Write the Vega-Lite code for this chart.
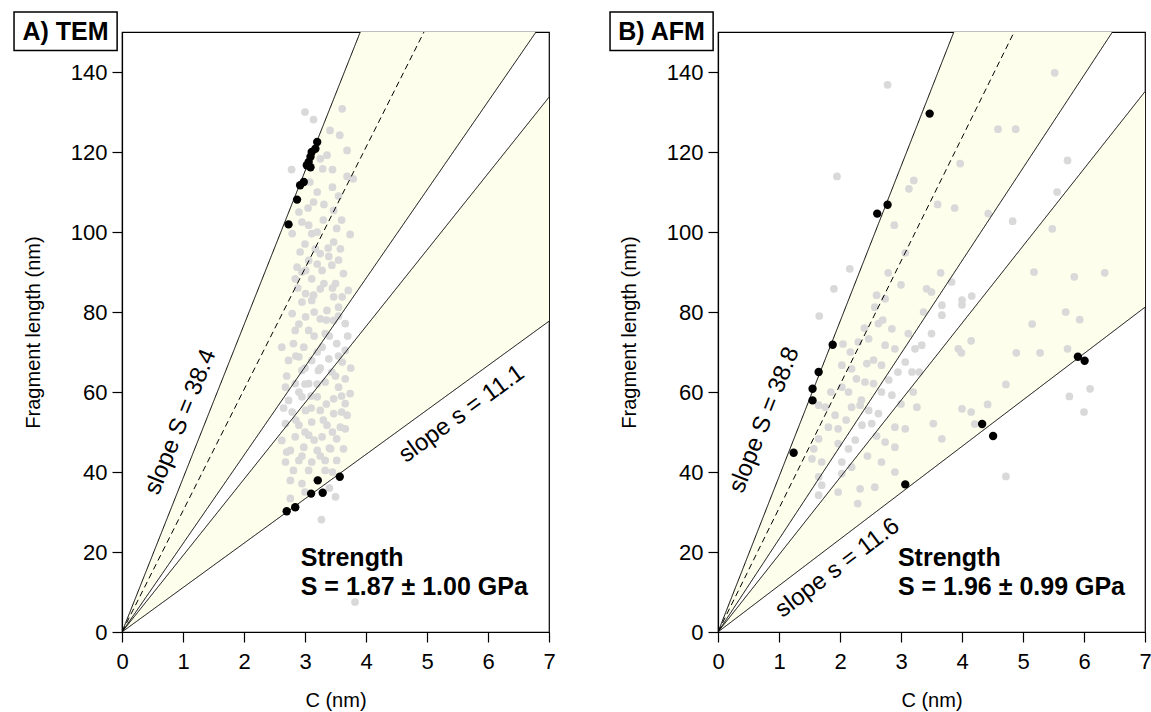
{
  "$schema": "https://vega.github.io/schema/vega-lite/v6.json",
  "background": "white",
  "padding": {"left": 12, "top": 10, "right": 5, "bottom": 2},
  "spacing": 169,
  "bounds": "flush",
  "config": {
    "view": {"stroke": "#000", "strokeWidth": 1.2},
    "font": "Liberation Sans",
    "axis": {
      "grid": false, "domainColor": "#000", "domainWidth": 1.2, "tickColor": "#000", "tickWidth": 1.2, "tickSize": 10,
      "labelFont": "Liberation Sans", "labelFontSize": 22, "labelColor": "#000", "labelFlush": false, "labelOverlap": false,
      "titleFont": "Liberation Sans", "titleFontSize": 20, "titleFontWeight": "normal", "titleColor": "#000"
    },
    "axisX": {"labelPadding": 9, "titlePadding": 18},
    "axisY": {"labelPadding": 5, "titlePadding": 27}
  },
  "datasets": {
    "bands": [
      {"panel": "A", "band": "upper", "x": 0, "y": 0, "y2": 0},
      {"panel": "A", "band": "upper", "x": 7, "y": 268.8, "y2": 154.7},
      {"panel": "A", "band": "lower", "x": 0, "y": 0, "y2": 0},
      {"panel": "A", "band": "lower", "x": 7, "y": 133.7, "y2": 77.7},
      {"panel": "B", "band": "upper", "x": 0, "y": 0, "y2": 0},
      {"panel": "B", "band": "upper", "x": 7, "y": 271.6, "y2": 162.4},
      {"panel": "B", "band": "lower", "x": 0, "y": 0, "y2": 0},
      {"panel": "B", "band": "lower", "x": 7, "y": 135.1, "y2": 81.2}
    ],
    "lines": [
      {"panel": "A", "line": "S", "style": "solid", "x": 0, "y": 0},
      {"panel": "A", "line": "S", "style": "solid", "x": 7, "y": 268.8},
      {"panel": "A", "line": "mean", "style": "dashed", "x": 0, "y": 0},
      {"panel": "A", "line": "mean", "style": "dashed", "x": 7, "y": 212.1},
      {"panel": "A", "line": "l3", "style": "solid", "x": 0, "y": 0},
      {"panel": "A", "line": "l3", "style": "solid", "x": 7, "y": 154.7},
      {"panel": "A", "line": "l4", "style": "solid", "x": 0, "y": 0},
      {"panel": "A", "line": "l4", "style": "solid", "x": 7, "y": 133.7},
      {"panel": "A", "line": "s", "style": "solid", "x": 0, "y": 0},
      {"panel": "A", "line": "s", "style": "solid", "x": 7, "y": 77.7},
      {"panel": "B", "line": "S", "style": "solid", "x": 0, "y": 0},
      {"panel": "B", "line": "S", "style": "solid", "x": 7, "y": 271.6},
      {"panel": "B", "line": "mean", "style": "dashed", "x": 0, "y": 0},
      {"panel": "B", "line": "mean", "style": "dashed", "x": 7, "y": 216.3},
      {"panel": "B", "line": "l3", "style": "solid", "x": 0, "y": 0},
      {"panel": "B", "line": "l3", "style": "solid", "x": 7, "y": 162.4},
      {"panel": "B", "line": "l4", "style": "solid", "x": 0, "y": 0},
      {"panel": "B", "line": "l4", "style": "solid", "x": 7, "y": 135.1},
      {"panel": "B", "line": "s", "style": "solid", "x": 0, "y": 0},
      {"panel": "B", "line": "s", "style": "solid", "x": 7, "y": 81.2}
    ],
    "frames": [
      {"panel": "A", "label": "A) TEM"},
      {"panel": "B", "label": "B) AFM"}
    ],
    "notes": [
      {"panel": "A", "kind": "steep", "text": "slope S = 38.4", "x": 0.96, "y": 52.5},
      {"panel": "A", "kind": "shallow", "text": "slope s = 11.1", "x": 5.57, "y": 54.5},
      {"panel": "A", "kind": "strength", "text": "Strength", "x": 2.93, "y": 18.5},
      {"panel": "A", "kind": "strength", "text": "S = 1.87 ± 1.00 GPa", "x": 2.93, "y": 11.3},
      {"panel": "B", "kind": "steep", "text": "slope S = 38.8", "x": 0.76, "y": 53},
      {"panel": "B", "kind": "shallow", "text": "slope s = 11.6", "x": 1.96, "y": 16},
      {"panel": "B", "kind": "strength", "text": "Strength", "x": 2.95, "y": 18.5},
      {"panel": "B", "kind": "strength", "text": "S = 1.96 ± 0.99 GPa", "x": 2.95, "y": 11.3}
    ],
    "points": [
      {"panel":"A","kind":"gray","x":3.00,"y":130},{"panel":"A","kind":"gray","x":3.14,"y":128.1},{"panel":"A","kind":"gray","x":3.61,"y":130.8},{"panel":"A","kind":"gray","x":3.41,"y":125.4},{"panel":"A","kind":"gray","x":3.57,"y":124.2},{"panel":"A","kind":"gray","x":3.69,"y":120.4},{"panel":"A","kind":"gray","x":3.36,"y":119.2},{"panel":"A","kind":"gray","x":3.25,"y":118.3},{"panel":"A","kind":"gray","x":3.29,"y":115.8},{"panel":"A","kind":"gray","x":3.45,"y":115.6},{"panel":"A","kind":"gray","x":2.78,"y":115.6},{"panel":"A","kind":"gray","x":3.69,"y":113.9},{"panel":"A","kind":"gray","x":3.79,"y":113.3},{"panel":"A","kind":"gray","x":3.08,"y":112.5},{"panel":"A","kind":"gray","x":3.45,"y":111.2},{"panel":"A","kind":"gray","x":3.14,"y":107.5},{"panel":"A","kind":"gray","x":3.31,"y":106.9},{"panel":"A","kind":"gray","x":3.47,"y":105.4},{"panel":"A","kind":"gray","x":2.90,"y":105},{"panel":"A","kind":"gray","x":2.95,"y":102.5},{"panel":"A","kind":"gray","x":3.06,"y":101.7},{"panel":"A","kind":"gray","x":3.11,"y":99.6},{"panel":"A","kind":"gray","x":2.79,"y":99.6},{"panel":"A","kind":"gray","x":3.52,"y":100.9},{"panel":"A","kind":"gray","x":3.74,"y":99.4},{"panel":"A","kind":"gray","x":3.47,"y":97.5},{"panel":"A","kind":"gray","x":3.58,"y":95.8},{"panel":"A","kind":"gray","x":3.17,"y":95.8},{"panel":"A","kind":"gray","x":2.92,"y":95},{"panel":"A","kind":"gray","x":3.25,"y":94.6},{"panel":"A","kind":"gray","x":3.39,"y":93.9},{"panel":"A","kind":"gray","x":3.06,"y":92.9},{"panel":"A","kind":"gray","x":2.87,"y":91.2},{"panel":"A","kind":"gray","x":3.01,"y":90.4},{"panel":"A","kind":"gray","x":3.28,"y":90.4},{"panel":"A","kind":"gray","x":3.44,"y":91.7},{"panel":"A","kind":"gray","x":3.63,"y":89.6},{"panel":"A","kind":"gray","x":2.84,"y":88.3},{"panel":"A","kind":"gray","x":3.11,"y":88.3},{"panel":"A","kind":"gray","x":3.31,"y":87.1},{"panel":"A","kind":"gray","x":3.50,"y":87.1},{"panel":"A","kind":"gray","x":3.71,"y":85.4},{"panel":"A","kind":"gray","x":3.25,"y":85.8},{"panel":"A","kind":"gray","x":3.01,"y":84.6},{"panel":"A","kind":"gray","x":3.14,"y":84.2},{"panel":"A","kind":"gray","x":3.47,"y":83.8},{"panel":"A","kind":"gray","x":3.61,"y":83.8},
      {"panel":"A","kind":"gray","x":2.95,"y":82.5},{"panel":"A","kind":"gray","x":3.11,"y":82.9},{"panel":"A","kind":"gray","x":3.36,"y":80.4},{"panel":"A","kind":"gray","x":3.55,"y":81.2},{"panel":"A","kind":"gray","x":2.79,"y":79.6},{"panel":"A","kind":"gray","x":3.01,"y":78.8},{"panel":"A","kind":"gray","x":3.25,"y":78.3},{"panel":"A","kind":"gray","x":3.47,"y":77.9},{"panel":"A","kind":"gray","x":3.66,"y":77.1},{"panel":"A","kind":"gray","x":2.84,"y":75.4},{"panel":"A","kind":"gray","x":3.06,"y":75.4},{"panel":"A","kind":"gray","x":3.33,"y":74.6},{"panel":"A","kind":"gray","x":2.62,"y":71.2},{"panel":"A","kind":"gray","x":2.81,"y":72.1},{"panel":"A","kind":"gray","x":2.98,"y":71.2},{"panel":"A","kind":"gray","x":3.28,"y":71.2},{"panel":"A","kind":"gray","x":3.52,"y":72.1},{"panel":"A","kind":"gray","x":3.66,"y":70.4},{"panel":"A","kind":"gray","x":2.73,"y":67.9},{"panel":"A","kind":"gray","x":2.90,"y":68.8},{"panel":"A","kind":"gray","x":3.11,"y":67.9},{"panel":"A","kind":"gray","x":3.39,"y":68.3},{"panel":"A","kind":"gray","x":3.61,"y":67.5},{"panel":"A","kind":"gray","x":2.95,"y":65.4},{"panel":"A","kind":"gray","x":3.22,"y":65.4},{"panel":"A","kind":"gray","x":3.44,"y":65},{"panel":"A","kind":"gray","x":3.66,"y":63.3},{"panel":"A","kind":"gray","x":2.68,"y":61.2},{"panel":"A","kind":"gray","x":2.84,"y":62.1},{"panel":"A","kind":"gray","x":3.06,"y":62.1},{"panel":"A","kind":"gray","x":3.33,"y":62.5},{"panel":"A","kind":"gray","x":3.55,"y":61.2},{"panel":"A","kind":"gray","x":3.74,"y":59.6},{"panel":"A","kind":"gray","x":2.73,"y":57.9},{"panel":"A","kind":"gray","x":2.95,"y":58.8},{"panel":"A","kind":"gray","x":3.20,"y":58.8},{"panel":"A","kind":"gray","x":3.47,"y":58.3},{"panel":"A","kind":"gray","x":3.66,"y":57.1},{"panel":"A","kind":"gray","x":2.79,"y":55},{"panel":"A","kind":"gray","x":3.01,"y":55.4},{"panel":"A","kind":"gray","x":3.25,"y":55.4},{"panel":"A","kind":"gray","x":3.47,"y":54.6},{"panel":"A","kind":"gray","x":3.69,"y":54.2},{"panel":"A","kind":"gray","x":2.68,"y":52.1},{"panel":"A","kind":"gray","x":2.90,"y":51.7},{"panel":"A","kind":"gray","x":3.11,"y":52.5},{"panel":"A","kind":"gray","x":3.36,"y":51.7},{"panel":"A","kind":"gray","x":3.58,"y":51.2},{"panel":"A","kind":"gray","x":2.62,"y":47.9},{"panel":"A","kind":"gray","x":2.84,"y":48.8},{"panel":"A","kind":"gray","x":3.06,"y":49.2},{"panel":"A","kind":"gray","x":3.28,"y":48.8},{"panel":"A","kind":"gray","x":3.52,"y":48.3},{"panel":"A","kind":"gray","x":3.66,"y":50.8},{"panel":"A","kind":"gray","x":2.76,"y":45.4},{"panel":"A","kind":"gray","x":2.98,"y":46.2},{"panel":"A","kind":"gray","x":3.20,"y":45.4},{"panel":"A","kind":"gray","x":3.42,"y":45.8},{"panel":"A","kind":"gray","x":3.63,"y":45.8},{"panel":"A","kind":"gray","x":2.68,"y":42.5},{"panel":"A","kind":"gray","x":2.90,"y":42.9},{"panel":"A","kind":"gray","x":3.11,"y":42.5},{"panel":"A","kind":"gray","x":3.33,"y":42.9},{"panel":"A","kind":"gray","x":3.52,"y":42.9},{"panel":"A","kind":"gray","x":2.81,"y":40.4},{"panel":"A","kind":"gray","x":3.06,"y":40.4},{"panel":"A","kind":"gray","x":3.33,"y":40.4},{"panel":"A","kind":"gray","x":2.76,"y":37.9},{"panel":"A","kind":"gray","x":2.95,"y":37.1},{"panel":"A","kind":"gray","x":2.76,"y":33.4},{"panel":"A","kind":"gray","x":3.50,"y":33.8},{"panel":"A","kind":"gray","x":3.27,"y":28.1},{"panel":"A","kind":"gray","x":3.82,"y":7.5},
      {"panel":"A","kind":"gray","x":2.88,"y":86},{"panel":"A","kind":"gray","x":3.2,"y":92},{"panel":"A","kind":"gray","x":3.38,"y":96},{"panel":"A","kind":"gray","x":3.0,"y":97},{"panel":"A","kind":"gray","x":3.55,"y":93},{"panel":"A","kind":"gray","x":3.15,"y":80},{"panel":"A","kind":"gray","x":3.4,"y":74},{"panel":"A","kind":"gray","x":2.9,"y":77},{"panel":"A","kind":"gray","x":3.55,"y":69},{"panel":"A","kind":"gray","x":3.0,"y":66},{"panel":"A","kind":"gray","x":3.2,"y":62},{"panel":"A","kind":"gray","x":2.9,"y":60},{"panel":"A","kind":"gray","x":3.35,"y":57},{"panel":"A","kind":"gray","x":3.1,"y":56},{"panel":"A","kind":"gray","x":2.85,"y":53},{"panel":"A","kind":"gray","x":3.3,"y":53},{"panel":"A","kind":"gray","x":3.0,"y":50},{"panel":"A","kind":"gray","x":3.45,"y":50},{"panel":"A","kind":"gray","x":3.15,"y":48},{"panel":"A","kind":"gray","x":2.95,"y":44},{"panel":"A","kind":"gray","x":3.25,"y":44},{"panel":"A","kind":"gray","x":3.45,"y":40},{"panel":"A","kind":"gray","x":3.2,"y":38},{"panel":"A","kind":"gray","x":3.0,"y":35},{"panel":"A","kind":"gray","x":3.4,"y":36},{"panel":"A","kind":"gray","x":2.7,"y":64},{"panel":"A","kind":"gray","x":3.5,"y":64},{"panel":"A","kind":"gray","x":3.6,"y":59},{"panel":"A","kind":"gray","x":3.2,"y":70},{"panel":"A","kind":"gray","x":2.85,"y":69},{"panel":"A","kind":"gray","x":3.45,"y":86},{"panel":"A","kind":"gray","x":3.6,"y":103},{"panel":"A","kind":"gray","x":3.3,"y":103},{"panel":"A","kind":"gray","x":3.2,"y":110},{"panel":"A","kind":"gray","x":3.55,"y":109},{"panel":"A","kind":"gray","x":3.05,"y":106},{"panel":"A","kind":"gray","x":2.7,"y":45},{"panel":"A","kind":"gray","x":3.6,"y":55},{"panel":"A","kind":"gray","x":3.75,"y":66},{"panel":"A","kind":"gray","x":3.7,"y":74},{"panel":"A","kind":"gray","x":2.65,"y":56},{"panel":"A","kind":"gray","x":3.4,"y":46},{"panel":"A","kind":"gray","x":3.1,"y":59},{"panel":"A","kind":"gray","x":3.25,"y":66},{"panel":"A","kind":"gray","x":3.0,"y":62},{"panel":"A","kind":"gray","x":3.15,"y":74},{"panel":"A","kind":"gray","x":3.35,"y":78},{"panel":"A","kind":"gray","x":3.55,"y":79},{"panel":"A","kind":"gray","x":2.95,"y":90},{"panel":"A","kind":"gray","x":3.2,"y":100},
      {"panel":"A","kind":"black","x":3.20,"y":122.5},{"panel":"A","kind":"black","x":3.17,"y":120.8},{"panel":"A","kind":"black","x":3.11,"y":120},{"panel":"A","kind":"black","x":3.09,"y":118.8},{"panel":"A","kind":"black","x":3.06,"y":117.5},{"panel":"A","kind":"black","x":3.03,"y":116.7},{"panel":"A","kind":"black","x":3.09,"y":116.2},{"panel":"A","kind":"black","x":2.98,"y":112.5},{"panel":"A","kind":"black","x":2.92,"y":111.7},{"panel":"A","kind":"black","x":2.87,"y":108.1},{"panel":"A","kind":"black","x":2.73,"y":101.9},{"panel":"A","kind":"black","x":3.21,"y":37.9},{"panel":"A","kind":"black","x":3.57,"y":38.8},{"panel":"A","kind":"black","x":3.10,"y":34.6},{"panel":"A","kind":"black","x":3.29,"y":34.8},{"panel":"A","kind":"black","x":2.84,"y":31.2},{"panel":"A","kind":"black","x":2.70,"y":30.2},
      {"panel":"B","kind":"gray","x":2.78,"y":136.8},{"panel":"B","kind":"gray","x":1.95,"y":113.9},{"panel":"B","kind":"gray","x":3.21,"y":112.9},{"panel":"B","kind":"gray","x":3.13,"y":110.8},{"panel":"B","kind":"gray","x":3.60,"y":106.9},{"panel":"B","kind":"gray","x":3.88,"y":106},{"panel":"B","kind":"gray","x":2.89,"y":101.7},{"panel":"B","kind":"gray","x":3.07,"y":94.8},{"panel":"B","kind":"gray","x":2.16,"y":90.8},{"panel":"B","kind":"gray","x":2.79,"y":89.8},{"panel":"B","kind":"gray","x":3.65,"y":89.8},{"panel":"B","kind":"gray","x":3.00,"y":86.8},{"panel":"B","kind":"gray","x":1.90,"y":85.8},{"panel":"B","kind":"gray","x":3.42,"y":85.8},{"panel":"B","kind":"gray","x":3.50,"y":85},{"panel":"B","kind":"gray","x":2.60,"y":84.2},{"panel":"B","kind":"gray","x":3.97,"y":117.1},{"panel":"B","kind":"gray","x":3.83,"y":87.5},{"panel":"B","kind":"gray","x":5.52,"y":139.8},{"panel":"B","kind":"gray","x":4.59,"y":125.7},{"panel":"B","kind":"gray","x":4.88,"y":125.7},{"panel":"B","kind":"gray","x":5.73,"y":117.9},{"panel":"B","kind":"gray","x":5.56,"y":110},{"panel":"B","kind":"gray","x":4.43,"y":104.6},{"panel":"B","kind":"gray","x":4.83,"y":102.7},{"panel":"B","kind":"gray","x":5.48,"y":100.8},{"panel":"B","kind":"gray","x":5.18,"y":90},{"panel":"B","kind":"gray","x":5.84,"y":88.8},{"panel":"B","kind":"gray","x":6.34,"y":89.8},{"panel":"B","kind":"gray","x":4.16,"y":84},{"panel":"B","kind":"gray","x":4.0,"y":83},{"panel":"B","kind":"gray","x":5.70,"y":80},{"panel":"B","kind":"gray","x":5.93,"y":78.1},{"panel":"B","kind":"gray","x":5.15,"y":77},{"panel":"B","kind":"gray","x":4.15,"y":72.8},{"panel":"B","kind":"gray","x":3.94,"y":70.8},{"panel":"B","kind":"gray","x":3.99,"y":69.8},{"panel":"B","kind":"gray","x":4.89,"y":69.8},{"panel":"B","kind":"gray","x":5.28,"y":69.8},{"panel":"B","kind":"gray","x":5.73,"y":70.8},{"panel":"B","kind":"gray","x":4.72,"y":61.9},{"panel":"B","kind":"gray","x":6.10,"y":60.8},{"panel":"B","kind":"gray","x":5.76,"y":58.9},{"panel":"B","kind":"gray","x":6.00,"y":55},{"panel":"B","kind":"gray","x":4.42,"y":56.9},{"panel":"B","kind":"gray","x":4.0,"y":55.8},{"panel":"B","kind":"gray","x":4.15,"y":55},{"panel":"B","kind":"gray","x":4.21,"y":52},{"panel":"B","kind":"gray","x":4.72,"y":38.9},{"panel":"B","kind":"gray","x":3.67,"y":81.7},{"panel":"B","kind":"gray","x":4.0,"y":81.8},{"panel":"B","kind":"gray","x":3.67,"y":48.3},
      {"panel":"B","kind":"gray","x":1.66,"y":79},{"panel":"B","kind":"gray","x":2.74,"y":83.3},{"panel":"B","kind":"gray","x":2.57,"y":81.2},{"panel":"B","kind":"gray","x":2.63,"y":77.1},{"panel":"B","kind":"gray","x":2.85,"y":75.8},{"panel":"B","kind":"gray","x":3.12,"y":74.6},{"panel":"B","kind":"gray","x":3.50,"y":74.6},{"panel":"B","kind":"gray","x":3.67,"y":79.2},{"panel":"B","kind":"gray","x":3.37,"y":80},{"panel":"B","kind":"gray","x":2.30,"y":72.5},{"panel":"B","kind":"gray","x":2.47,"y":73.3},{"panel":"B","kind":"gray","x":2.17,"y":70},{"panel":"B","kind":"gray","x":2.74,"y":71.7},{"panel":"B","kind":"gray","x":2.90,"y":70.8},{"panel":"B","kind":"gray","x":3.23,"y":70.8},{"panel":"B","kind":"gray","x":3.34,"y":71.7},{"panel":"B","kind":"gray","x":2.03,"y":66.7},{"panel":"B","kind":"gray","x":2.19,"y":65.8},{"panel":"B","kind":"gray","x":2.44,"y":67.1},{"panel":"B","kind":"gray","x":2.68,"y":66.7},{"panel":"B","kind":"gray","x":3.07,"y":67.5},{"panel":"B","kind":"gray","x":3.18,"y":65},{"panel":"B","kind":"gray","x":2.27,"y":63.3},{"panel":"B","kind":"gray","x":2.41,"y":62.5},{"panel":"B","kind":"gray","x":2.55,"y":62.1},{"panel":"B","kind":"gray","x":2.03,"y":61.2},{"panel":"B","kind":"gray","x":2.14,"y":60},{"panel":"B","kind":"gray","x":2.68,"y":60},{"panel":"B","kind":"gray","x":2.85,"y":59.2},{"panel":"B","kind":"gray","x":1.65,"y":56.7},{"panel":"B","kind":"gray","x":1.76,"y":56.2},{"panel":"B","kind":"gray","x":2.19,"y":56.2},{"panel":"B","kind":"gray","x":2.33,"y":56.7},{"panel":"B","kind":"gray","x":2.47,"y":55.4},{"panel":"B","kind":"gray","x":2.63,"y":54.6},{"panel":"B","kind":"gray","x":3.26,"y":56.2},{"panel":"B","kind":"gray","x":1.92,"y":54.2},{"panel":"B","kind":"gray","x":1.81,"y":51.2},{"panel":"B","kind":"gray","x":1.97,"y":50.8},{"panel":"B","kind":"gray","x":2.36,"y":51.7},{"panel":"B","kind":"gray","x":2.52,"y":52.1},{"panel":"B","kind":"gray","x":2.90,"y":51.2},{"panel":"B","kind":"gray","x":3.07,"y":50.8},{"panel":"B","kind":"gray","x":3.53,"y":52.1},{"panel":"B","kind":"gray","x":1.65,"y":48.3},{"panel":"B","kind":"gray","x":1.57,"y":45.8},{"panel":"B","kind":"gray","x":1.97,"y":47.1},{"panel":"B","kind":"gray","x":2.14,"y":45.8},{"panel":"B","kind":"gray","x":2.74,"y":47.5},{"panel":"B","kind":"gray","x":2.90,"y":46.2},{"panel":"B","kind":"gray","x":1.70,"y":42.5},{"panel":"B","kind":"gray","x":1.54,"y":43.3},{"panel":"B","kind":"gray","x":2.03,"y":42.5},{"panel":"B","kind":"gray","x":2.19,"y":41.2},{"panel":"B","kind":"gray","x":2.68,"y":42.5},{"panel":"B","kind":"gray","x":2.90,"y":40},{"panel":"B","kind":"gray","x":1.65,"y":38.8},{"panel":"B","kind":"gray","x":1.70,"y":36.7},{"panel":"B","kind":"gray","x":2.03,"y":39.6},{"panel":"B","kind":"gray","x":2.33,"y":35.8},{"panel":"B","kind":"gray","x":2.57,"y":36.2},{"panel":"B","kind":"gray","x":1.65,"y":34.2},{"panel":"B","kind":"gray","x":1.97,"y":35},{"panel":"B","kind":"gray","x":2.29,"y":32.1},
      {"panel":"B","kind":"gray","x":2.35,"y":58},{"panel":"B","kind":"gray","x":2.55,"y":68},{"panel":"B","kind":"gray","x":2.25,"y":48},{"panel":"B","kind":"gray","x":2.45,"y":44},{"panel":"B","kind":"gray","x":2.8,"y":63},{"panel":"B","kind":"gray","x":3.0,"y":57},{"panel":"B","kind":"gray","x":2.1,"y":53},{"panel":"B","kind":"gray","x":2.6,"y":49},{"panel":"B","kind":"gray","x":3.2,"y":60},{"panel":"B","kind":"gray","x":2.95,"y":65},{"panel":"B","kind":"gray","x":2.4,"y":76},{"panel":"B","kind":"gray","x":1.85,"y":60},{"panel":"B","kind":"gray","x":2.05,"y":72},{"panel":"B","kind":"gray","x":2.7,"y":78},{"panel":"B","kind":"gray","x":3.3,"y":65},
      {"panel":"B","kind":"black","x":3.47,"y":129.6},{"panel":"B","kind":"black","x":2.78,"y":106.8},{"panel":"B","kind":"black","x":2.61,"y":104.6},{"panel":"B","kind":"black","x":1.88,"y":71.8},{"panel":"B","kind":"black","x":1.65,"y":65},{"panel":"B","kind":"black","x":1.55,"y":60.8},{"panel":"B","kind":"black","x":1.55,"y":57.9},{"panel":"B","kind":"black","x":1.24,"y":44.8},{"panel":"B","kind":"black","x":3.07,"y":36.9},{"panel":"B","kind":"black","x":4.33,"y":52},{"panel":"B","kind":"black","x":4.51,"y":49},{"panel":"B","kind":"black","x":5.90,"y":68.8},{"panel":"B","kind":"black","x":6.01,"y":67.8}
    ]
  },
  "hconcat": [
    {
      "width": 427, "height": 600,
      "layer": [
        {"data": {"name": "bands"}, "transform": [{"filter": "datum.panel === 'A'"}], "mark": {"type": "area", "clip": true, "color": "#FEFEEC", "opacity": 1},
         "encoding": {
           "x": {"field": "x", "type": "quantitative", "title": "C (nm)", "scale": {"domain": [0, 7], "nice": false, "zero": false}, "axis": {"values": [0,1,2,3,4,5,6,7]}},
           "y": {"field": "y", "type": "quantitative", "title": "Fragment length (nm)", "stack": null, "scale": {"domain": [0, 150], "nice": false}, "axis": {"values": [0,20,40,60,80,100,120,140]}},
           "y2": {"field": "y2"}, "detail": {"field": "band"}}},
        {"data": {"name": "points"}, "transform": [{"filter": "datum.panel === 'A' && datum.kind === 'gray'"}], "mark": {"type": "circle", "size": 60, "color": "#D9D9D9", "opacity": 1},
         "encoding": {"x": {"field": "x", "type": "quantitative", "title": "C (nm)", "scale": {"domain": [0, 7], "nice": false, "zero": false}, "axis": {"values": [0,1,2,3,4,5,6,7]}}, "y": {"field": "y", "type": "quantitative", "title": "Fragment length (nm)", "scale": {"domain": [0, 150], "nice": false}, "axis": {"values": [0,20,40,60,80,100,120,140]}}}},
        {"data": {"name": "lines"}, "transform": [{"filter": "datum.panel === 'A'"}], "mark": {"type": "line", "clip": true, "color": "#000", "strokeWidth": 1},
         "encoding": {"x": {"field": "x", "type": "quantitative", "title": "C (nm)", "scale": {"domain": [0, 7], "nice": false, "zero": false}, "axis": {"values": [0,1,2,3,4,5,6,7]}}, "y": {"field": "y", "type": "quantitative", "title": "Fragment length (nm)", "scale": {"domain": [0, 150], "nice": false}, "axis": {"values": [0,20,40,60,80,100,120,140]}},
           "detail": {"field": "line"}, "strokeDash": {"field": "style", "type": "nominal", "scale": {"domain": ["solid", "dashed"], "range": [[1, 0], [6, 4]]}, "legend": null}}},
        {"data": {"name": "points"}, "transform": [{"filter": "datum.panel === 'A' && datum.kind === 'black'"}], "mark": {"type": "circle", "size": 70, "color": "#000", "opacity": 1},
         "encoding": {"x": {"field": "x", "type": "quantitative", "title": "C (nm)", "scale": {"domain": [0, 7], "nice": false, "zero": false}, "axis": {"values": [0,1,2,3,4,5,6,7]}}, "y": {"field": "y", "type": "quantitative", "title": "Fragment length (nm)", "scale": {"domain": [0, 150], "nice": false}, "axis": {"values": [0,20,40,60,80,100,120,140]}}}},
        {"data": {"name": "notes"}, "transform": [{"filter": "datum.panel === 'A' && datum.kind === 'steep'"}], "mark": {"type": "text", "angle": 292, "fontSize": 24, "color": "#000", "align": "center", "baseline": "middle"},
         "encoding": {"x": {"field": "x", "type": "quantitative", "title": "C (nm)", "scale": {"domain": [0, 7], "nice": false, "zero": false}, "axis": {"values": [0,1,2,3,4,5,6,7]}}, "y": {"field": "y", "type": "quantitative", "title": "Fragment length (nm)", "scale": {"domain": [0, 150], "nice": false}, "axis": {"values": [0,20,40,60,80,100,120,140]}}, "text": {"field": "text"}}},
        {"data": {"name": "notes"}, "transform": [{"filter": "datum.panel === 'A' && datum.kind === 'shallow'"}], "mark": {"type": "text", "angle": 324, "fontSize": 24, "color": "#000", "align": "center", "baseline": "middle"},
         "encoding": {"x": {"field": "x", "type": "quantitative", "title": "C (nm)", "scale": {"domain": [0, 7], "nice": false, "zero": false}, "axis": {"values": [0,1,2,3,4,5,6,7]}}, "y": {"field": "y", "type": "quantitative", "title": "Fragment length (nm)", "scale": {"domain": [0, 150], "nice": false}, "axis": {"values": [0,20,40,60,80,100,120,140]}}, "text": {"field": "text"}}},
        {"data": {"name": "notes"}, "transform": [{"filter": "datum.panel === 'A' && datum.kind === 'strength'"}], "mark": {"type": "text", "fontSize": 25, "fontWeight": "bold", "color": "#000", "align": "left", "baseline": "middle"},
         "encoding": {"x": {"field": "x", "type": "quantitative", "title": "C (nm)", "scale": {"domain": [0, 7], "nice": false, "zero": false}, "axis": {"values": [0,1,2,3,4,5,6,7]}}, "y": {"field": "y", "type": "quantitative", "title": "Fragment length (nm)", "scale": {"domain": [0, 150], "nice": false}, "axis": {"values": [0,20,40,60,80,100,120,140]}}, "text": {"field": "text"}}},
        {"data": {"name": "frames"}, "transform": [{"filter": "datum.panel === 'A'"}], "mark": {"type": "rect", "fill": "#fff", "stroke": "#000", "strokeWidth": 1.5, "clip": false},
         "encoding": {"x": {"datum": -1.77, "type": "quantitative", "title": "C (nm)", "scale": {"domain": [0, 7], "nice": false, "zero": false}, "axis": {"values": [0,1,2,3,4,5,6,7]}}, "x2": {"datum": -0.08}, "y": {"datum": 155, "type": "quantitative", "title": "Fragment length (nm)", "scale": {"domain": [0, 150], "nice": false}, "axis": {"values": [0,20,40,60,80,100,120,140]}}, "y2": {"datum": 145.4}}},
        {"data": {"name": "frames"}, "transform": [{"filter": "datum.panel === 'A'"}], "mark": {"type": "text", "fontSize": 25, "fontWeight": "bold", "color": "#000", "align": "center", "baseline": "middle", "clip": false},
         "encoding": {"x": {"datum": -0.925, "type": "quantitative", "title": "C (nm)", "scale": {"domain": [0, 7], "nice": false, "zero": false}, "axis": {"values": [0,1,2,3,4,5,6,7]}}, "y": {"datum": 150.1, "type": "quantitative", "title": "Fragment length (nm)", "scale": {"domain": [0, 150], "nice": false}, "axis": {"values": [0,20,40,60,80,100,120,140]}}, "text": {"field": "label"}}}
      ]
    },
    {
      "width": 427, "height": 600,
      "layer": [
        {"data": {"name": "bands"}, "transform": [{"filter": "datum.panel === 'B'"}], "mark": {"type": "area", "clip": true, "color": "#FEFEEC", "opacity": 1},
         "encoding": {
           "x": {"field": "x", "type": "quantitative", "title": "C (nm)", "scale": {"domain": [0, 7], "nice": false, "zero": false}, "axis": {"values": [0,1,2,3,4,5,6,7]}},
           "y": {"field": "y", "type": "quantitative", "title": "Fragment length (nm)", "stack": null, "scale": {"domain": [0, 150], "nice": false}, "axis": {"values": [0,20,40,60,80,100,120,140]}},
           "y2": {"field": "y2"}, "detail": {"field": "band"}}},
        {"data": {"name": "points"}, "transform": [{"filter": "datum.panel === 'B' && datum.kind === 'gray'"}], "mark": {"type": "circle", "size": 60, "color": "#D9D9D9", "opacity": 1},
         "encoding": {"x": {"field": "x", "type": "quantitative", "title": "C (nm)", "scale": {"domain": [0, 7], "nice": false, "zero": false}, "axis": {"values": [0,1,2,3,4,5,6,7]}}, "y": {"field": "y", "type": "quantitative", "title": "Fragment length (nm)", "scale": {"domain": [0, 150], "nice": false}, "axis": {"values": [0,20,40,60,80,100,120,140]}}}},
        {"data": {"name": "lines"}, "transform": [{"filter": "datum.panel === 'B'"}], "mark": {"type": "line", "clip": true, "color": "#000", "strokeWidth": 1},
         "encoding": {"x": {"field": "x", "type": "quantitative", "title": "C (nm)", "scale": {"domain": [0, 7], "nice": false, "zero": false}, "axis": {"values": [0,1,2,3,4,5,6,7]}}, "y": {"field": "y", "type": "quantitative", "title": "Fragment length (nm)", "scale": {"domain": [0, 150], "nice": false}, "axis": {"values": [0,20,40,60,80,100,120,140]}},
           "detail": {"field": "line"}, "strokeDash": {"field": "style", "type": "nominal", "scale": {"domain": ["solid", "dashed"], "range": [[1, 0], [6, 4]]}, "legend": null}}},
        {"data": {"name": "points"}, "transform": [{"filter": "datum.panel === 'B' && datum.kind === 'black'"}], "mark": {"type": "circle", "size": 70, "color": "#000", "opacity": 1},
         "encoding": {"x": {"field": "x", "type": "quantitative", "title": "C (nm)", "scale": {"domain": [0, 7], "nice": false, "zero": false}, "axis": {"values": [0,1,2,3,4,5,6,7]}}, "y": {"field": "y", "type": "quantitative", "title": "Fragment length (nm)", "scale": {"domain": [0, 150], "nice": false}, "axis": {"values": [0,20,40,60,80,100,120,140]}}}},
        {"data": {"name": "notes"}, "transform": [{"filter": "datum.panel === 'B' && datum.kind === 'steep'"}], "mark": {"type": "text", "angle": 291.5, "fontSize": 24, "color": "#000", "align": "center", "baseline": "middle"},
         "encoding": {"x": {"field": "x", "type": "quantitative", "title": "C (nm)", "scale": {"domain": [0, 7], "nice": false, "zero": false}, "axis": {"values": [0,1,2,3,4,5,6,7]}}, "y": {"field": "y", "type": "quantitative", "title": "Fragment length (nm)", "scale": {"domain": [0, 150], "nice": false}, "axis": {"values": [0,20,40,60,80,100,120,140]}}, "text": {"field": "text"}}},
        {"data": {"name": "notes"}, "transform": [{"filter": "datum.panel === 'B' && datum.kind === 'shallow'"}], "mark": {"type": "text", "angle": 323, "fontSize": 24, "color": "#000", "align": "center", "baseline": "middle"},
         "encoding": {"x": {"field": "x", "type": "quantitative", "title": "C (nm)", "scale": {"domain": [0, 7], "nice": false, "zero": false}, "axis": {"values": [0,1,2,3,4,5,6,7]}}, "y": {"field": "y", "type": "quantitative", "title": "Fragment length (nm)", "scale": {"domain": [0, 150], "nice": false}, "axis": {"values": [0,20,40,60,80,100,120,140]}}, "text": {"field": "text"}}},
        {"data": {"name": "notes"}, "transform": [{"filter": "datum.panel === 'B' && datum.kind === 'strength'"}], "mark": {"type": "text", "fontSize": 25, "fontWeight": "bold", "color": "#000", "align": "left", "baseline": "middle"},
         "encoding": {"x": {"field": "x", "type": "quantitative", "title": "C (nm)", "scale": {"domain": [0, 7], "nice": false, "zero": false}, "axis": {"values": [0,1,2,3,4,5,6,7]}}, "y": {"field": "y", "type": "quantitative", "title": "Fragment length (nm)", "scale": {"domain": [0, 150], "nice": false}, "axis": {"values": [0,20,40,60,80,100,120,140]}}, "text": {"field": "text"}}},
        {"data": {"name": "frames"}, "transform": [{"filter": "datum.panel === 'B'"}], "mark": {"type": "rect", "fill": "#fff", "stroke": "#000", "strokeWidth": 1.5, "clip": false},
         "encoding": {"x": {"datum": -1.77, "type": "quantitative", "title": "C (nm)", "scale": {"domain": [0, 7], "nice": false, "zero": false}, "axis": {"values": [0,1,2,3,4,5,6,7]}}, "x2": {"datum": -0.08}, "y": {"datum": 155, "type": "quantitative", "title": "Fragment length (nm)", "scale": {"domain": [0, 150], "nice": false}, "axis": {"values": [0,20,40,60,80,100,120,140]}}, "y2": {"datum": 145.4}}},
        {"data": {"name": "frames"}, "transform": [{"filter": "datum.panel === 'B'"}], "mark": {"type": "text", "fontSize": 25, "fontWeight": "bold", "color": "#000", "align": "center", "baseline": "middle", "clip": false},
         "encoding": {"x": {"datum": -0.925, "type": "quantitative", "title": "C (nm)", "scale": {"domain": [0, 7], "nice": false, "zero": false}, "axis": {"values": [0,1,2,3,4,5,6,7]}}, "y": {"datum": 150.1, "type": "quantitative", "title": "Fragment length (nm)", "scale": {"domain": [0, 150], "nice": false}, "axis": {"values": [0,20,40,60,80,100,120,140]}}, "text": {"field": "label"}}}
      ]
    }
  ]
}
